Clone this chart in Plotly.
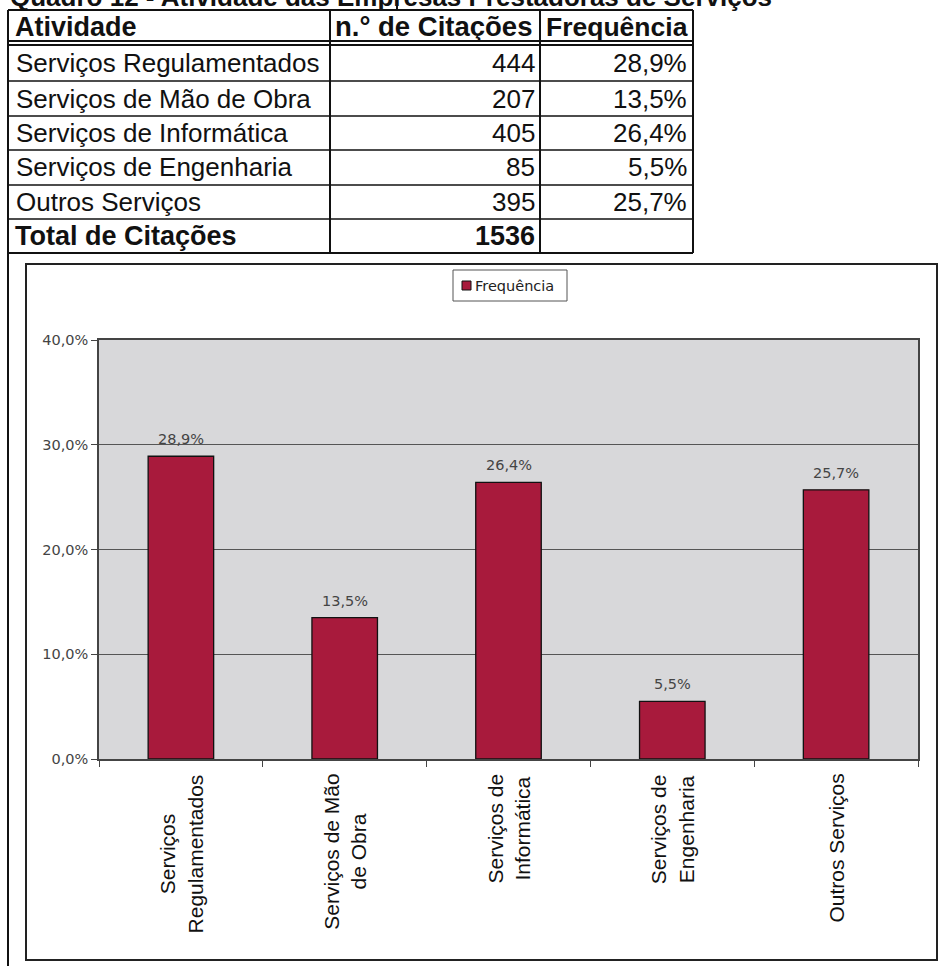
import plotly.graph_objects as go

# ---- data ----
atividades = ["Serviços Regulamentados", "Serviços de Mão de Obra", "Serviços de Informática",
              "Serviços de Engenharia", "Outros Serviços"]
citacoes = [444, 207, 405, 85, 395]
frequencia = [28.9, 13.5, 26.4, 5.5, 25.7]
total_citacoes = 1536
rotulos_eixo = ["Serviços<br>Regulamentados", "Serviços de Mão<br>de Obra", "Serviços de<br>Informática",
                "Serviços de<br>Engenharia", "Outros Serviços"]
cabecalho = ["Atividade", "n.° de Citações", "Frequência"]
titulo = "Quadro 12 - Atividade das Empresas Prestadoras de Serviços"
nome_serie = "Frequência"

W, H = 942, 966
PL, PR, PT, PB = 99, 918, 340, 759  # plot area in pixels


def px(x):
    return (x - PL) / (PR - PL)


def py(y):
    return (PB - y) / (PB - PT)


def pct(v):
    return f"{v:.1f}%".replace(".", ",")


BAR_COLOR = "#a81a3c"
TABLE_FONT = "Liberation Sans, Arial, sans-serif"
CHART_FONT = "DejaVu Sans, Verdana, sans-serif"

fig = go.Figure()
fig.add_trace(go.Bar(
    x=atividades, y=frequencia, name=nome_serie,
    marker=dict(color=BAR_COLOR, line=dict(color="#111", width=1.3)),
    width=0.4, showlegend=False,
))

shapes = []
annotations = []

# value labels above each bar
for cat, v in zip(atividades, frequencia):
    annotations.append(dict(xref="x", yref="y", x=cat, y=v, text=pct(v), yanchor="bottom",
                            yshift=7, showarrow=False,
                            font=dict(family=CHART_FONT, size=14.5, color="#444")))


def hline(x0, x1, y, w=2, color="#111"):
    shapes.append(dict(type="line", xref="paper", yref="paper", x0=px(x0), x1=px(x1),
                       y0=py(y), y1=py(y), line=dict(color=color, width=w)))


def vline(x, y0, y1, w=2, color="#111"):
    shapes.append(dict(type="line", xref="paper", yref="paper", x0=px(x), x1=px(x),
                       y0=py(y0), y1=py(y1), line=dict(color=color, width=w)))


def text(x, y, s, anchor="left", size=25, bold=False, color="#111", family=TABLE_FONT):
    annotations.append(dict(xref="paper", yref="paper", x=px(x), y=py(y), text=f"<b>{s}</b>" if bold else s,
                            xanchor=anchor, yanchor="middle", showarrow=False,
                            font=dict(family=family, size=size, color=color)))


# ---- title (partly above the page edge) ----
text(8, -3, titulo, bold=True, size=26)
vline(397, 0, 10)

# ---- table ----
TX = [8, 330, 540, 693]
TY = [10, 42, 81, 116, 150, 185, 219, 253]
hline(TX[0], TX[3], TY[0])
hline(TX[0], TX[3], TY[1] - 1)
hline(TX[0], TX[3], TY[1] + 3)
for y in TY[2:7]:
    hline(TX[0], TX[3], y, w=1.5)
hline(TX[0], TX[3], TY[7])
vline(TX[0], TY[0], H)
for x in TX[1:]:
    vline(x, TY[0], TY[7])

hy = (TY[0] + TY[1]) / 2
text(13, hy + 1, cabecalho[0], bold=True, size=27)
text(333, hy + 1, cabecalho[1], bold=True, size=27.5)
text(544, hy + 1, cabecalho[2], bold=True, size=26.5)

for i, (a, c, f) in enumerate(zip(atividades, citacoes, frequencia)):
    cy = (TY[i + 1] + TY[i + 2]) / 2 + (2 if i == 0 else 0)
    text(14, cy, a, size=26)
    text(537, cy, str(c), anchor="right", size=26)
    text(689, cy, pct(f), anchor="right", size=26)

cy = (TY[6] + TY[7]) / 2
text(13, cy, "Total de Citações", bold=True, size=27)
text(537, cy, str(total_citacoes), anchor="right", bold=True, size=27)

# ---- chart frame ----
shapes.append(dict(type="rect", xref="paper", yref="paper", x0=px(26), x1=px(937),
                   y0=py(264), y1=py(960), line=dict(color="#222", width=2)))

# ---- legend ----
shapes.append(dict(type="rect", xref="paper", yref="paper", x0=px(453), x1=px(567),
                   y0=py(270), y1=py(301), line=dict(color="#555", width=1), fillcolor="white"))
shapes.append(dict(type="rect", xref="paper", yref="paper", x0=px(462), x1=px(471),
                   y0=py(281), y1=py(290), line=dict(color="#111", width=1), fillcolor=BAR_COLOR))
text(473, 286, nome_serie, size=14.5, color="#222", family=CHART_FONT)

# ---- category labels ----
for cat, lab in zip(atividades, rotulos_eixo):
    annotations.append(dict(xref="x", yref="paper", x=cat, y=py(772), text=lab,
                            textangle=-90, xanchor="center", yanchor="top", align="center",
                            showarrow=False, font=dict(family=TABLE_FONT, size=21, color="#111")))

fig.update_layout(
    width=W, height=H,
    margin=dict(l=PL, r=W - PR, t=PT, b=H - PB, pad=0),
    paper_bgcolor="white", plot_bgcolor="#d8d8da",
    separators=",.",
    bargap=0.6,
    shapes=shapes, annotations=annotations,
    showlegend=False,
    xaxis=dict(type="category", showticklabels=False, ticks="outside", tickson="boundaries",
               ticklen=6, tickcolor="#444", showline=True, linecolor="#444", linewidth=1.5,
               mirror=True, showgrid=False, fixedrange=True),
    yaxis=dict(range=[0, 40], dtick=10, tickformat=".1f", ticksuffix="%", ticks="outside",
               ticklen=6, tickcolor="#444", showline=True, linecolor="#444", linewidth=1.5,
               mirror=True, showgrid=True, gridcolor="#555", gridwidth=1, zeroline=False,
               tickfont=dict(family=CHART_FONT, size=14.5, color="#444"), fixedrange=True),
)

fig.write_html("out.html")
